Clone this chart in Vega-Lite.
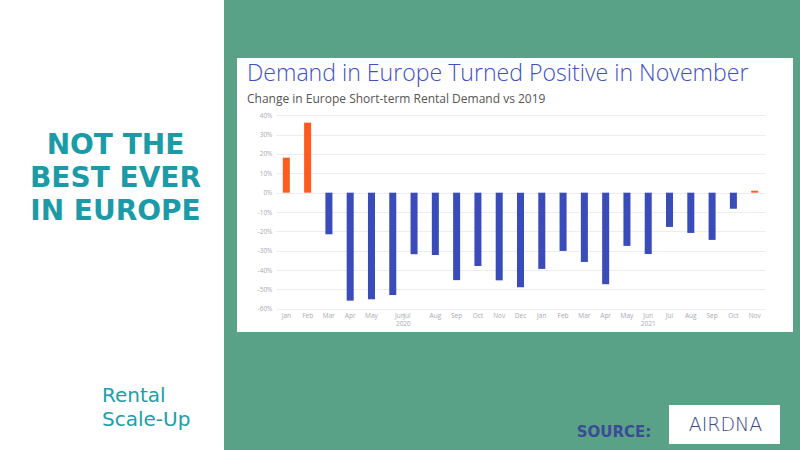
{
  "$schema": "https://vega.github.io/schema/vega-lite/v6.json",
  "background": "#5aa287",
  "padding": {"left": 0, "top": 0, "right": 7, "bottom": 0},
  "spacing": 13,
  "config": {"view": {"stroke": null}, "font": "Open Sans"},
  "datasets": {
    "months": [
      {"month": "2020-01", "change": 0.181},
      {"month": "2020-02", "change": 0.362},
      {"month": "2020-03", "change": -0.215},
      {"month": "2020-04", "change": -0.558},
      {"month": "2020-05", "change": -0.551},
      {"month": "2020-06", "change": -0.529},
      {"month": "2020-07", "change": -0.318},
      {"month": "2020-08", "change": -0.322},
      {"month": "2020-09", "change": -0.452},
      {"month": "2020-10", "change": -0.379},
      {"month": "2020-11", "change": -0.453},
      {"month": "2020-12", "change": -0.489},
      {"month": "2021-01", "change": -0.394},
      {"month": "2021-02", "change": -0.301},
      {"month": "2021-03", "change": -0.358},
      {"month": "2021-04", "change": -0.473},
      {"month": "2021-05", "change": -0.275},
      {"month": "2021-06", "change": -0.317},
      {"month": "2021-07", "change": -0.177},
      {"month": "2021-08", "change": -0.208},
      {"month": "2021-09", "change": -0.244},
      {"month": "2021-10", "change": -0.083},
      {"month": "2021-11", "change": 0.01}
    ]
  },
  "hconcat": [
    {
      "width": 224,
      "height": 450,
      "view": {"fill": "#ffffff"},
      "layer": [
        {
          "data": {"values": [{"line": 1, "text": "NOT THE"}, {"line": 2, "text": "BEST EVER"}, {"line": 3, "text": "IN EUROPE"}]},
          "mark": {"type": "text", "font": "DejaVu Sans", "fontWeight": "bold", "fontSize": 28, "color": "#1a9ba7", "baseline": "middle", "align": "center", "dx": 3.5},
          "encoding": {
            "y": {"field": "line", "type": "ordinal", "axis": null, "scale": {"type": "point", "range": [146, 212], "padding": 0}},
            "text": {"field": "text"}
          }
        },
        {
          "data": {"values": [{"line": 1, "text": "Rental"}, {"line": 2, "text": "Scale-Up"}]},
          "mark": {"type": "text", "font": "DejaVu Sans", "fontSize": 20, "color": "#1aa0aa", "baseline": "middle", "align": "left", "dx": -10},
          "encoding": {
            "y": {"field": "line", "type": "ordinal", "axis": null, "scale": {"type": "point", "range": [396, 420], "padding": 0}},
            "text": {"field": "text"}
          }
        }
      ],
      "resolve": {"scale": {"y": "independent"}}
    },
    {
      "spacing": 0,
      "vconcat": [
        {
          "width": 10,
          "height": 58,
          "data": {"values": [{}]},
          "mark": "text",
          "encoding": {"text": {"value": ""}}
        },
        {
          "width": 556,
          "height": 274,
          "view": {"fill": "#ffffff"},
          "data": {"name": "months"},
          "title": {
            "text": "Demand in Europe Turned Positive in November",
            "subtitle": "Change in Europe Short-term Rental Demand vs 2019",
            "anchor": "start",
            "frame": "group",
            "dx": 10,
            "offset": -47,
            "font": "Open Sans",
            "fontSize": 23.1,
            "fontWeight": 300,
            "color": "#3d4fc3",
            "subtitleFont": "Open Sans",
            "subtitleFontSize": 12,
            "subtitleColor": "#555555",
            "subtitlePadding": 8
          },
          "layer": [
            {
              "mark": {"type": "bar"},
              "encoding": {
                "x": {
                  "field": "month",
                  "type": "ordinal",
                  "scale": {"range": [39, 528], "paddingInner": 0.67, "paddingOuter": 0.32},
                  "axis": {
                    "orient": "bottom",
                    "offset": -23.2,
                    "title": null,
                    "labelExpr": "['Jan','Feb','Mar','Apr','May','Jun','Jul','Aug','Sep','Oct','Nov','Dec'][toNumber(slice(datum.value,5,7))-1]",
                    "labelAngle": 0,
                    "labelFont": "Open Sans",
                    "labelFontSize": 6.5,
                    "labelColor": "#a9a9b3",
                    "labelPadding": 4,
                    "labelOverlap": false,
                    "ticks": false,
                    "domain": false,
                    "grid": false,
                    "labelOffset": {"condition": [{"test": "datum.value == '2020-06'", "value": 7}, {"test": "datum.value == '2020-07'", "value": -7}], "value": 0}
                  }
                },
                "y": {
                  "field": "change",
                  "type": "quantitative",
                  "scale": {"domain": [-0.72, 0.696], "nice": false, "zero": true},
                  "axis": {
                    "orient": "left",
                    "offset": -40,
                    "title": null,
                    "values": [-0.6, -0.5, -0.4, -0.3, -0.2, -0.1, 0, 0.1, 0.2, 0.3, 0.4],
                    "labelExpr": "replace(format(datum.value, '.0%'), '−', '-')",
                    "labelFont": "Open Sans",
                    "labelFontSize": 6.5,
                    "labelColor": "#a9a9b3",
                    "labelPadding": 5,
                    "ticks": false,
                    "domain": false,
                    "grid": true,
                    "gridColor": "#ececf2",
                    "gridWidth": 1
                  }
                },
                "color": {"condition": {"test": "datum.change > 0", "value": "#ff5a1f"}, "value": "#3a4cb9"}
              }
            },
            {
              "mark": {"type": "text", "opacity": 0},
              "encoding": {
                "x": {
                  "field": "month",
                  "type": "ordinal",
                  "axis": {
                    "orient": "bottom",
                    "offset": -23.2,
                    "title": null,
                    "values": ["2020-06", "2021-06"],
                    "labelExpr": "slice(datum.value, 0, 4)",
                    "labelAngle": 0,
                    "labelFont": "Open Sans",
                    "labelFontSize": 6.5,
                    "labelColor": "#a9a9b3",
                    "labelPadding": 12,
                    "ticks": false,
                    "domain": false,
                    "grid": false,
                    "labelOffset": {"condition": {"test": "datum.value == '2020-06'", "value": 10.6}, "value": 0}
                  }
                },
                "text": {"value": "."}
              }
            }
          ],
          "resolve": {"axis": {"x": "independent"}}
        },
        {
          "spacing": 0,
          "vconcat": [
            {
              "width": 10,
              "height": 73,
              "data": {"values": [{}]},
              "mark": "text",
              "encoding": {"text": {"value": ""}}
            },
            {
              "spacing": 14,
              "hconcat": [
                {
                  "width": 324,
                  "height": 39,
                  "data": {"values": [{}]},
                  "mark": "text",
                  "encoding": {"text": {"value": ""}}
                },
                {
                  "width": 80,
                  "height": 39,
                  "data": {"values": [{"label": "SOURCE:"}]},
                  "mark": {"type": "text", "font": "DejaVu Sans", "fontWeight": "bold", "fontSize": 15, "color": "#3c4b96", "baseline": "middle", "dy": 7, "dx": -1},
                  "encoding": {"text": {"field": "label"}}
                },
                {
                  "width": 111,
                  "height": 39,
                  "view": {"fill": "#ffffff"},
                  "data": {"values": [{"label": "AIRDNA"}]},
                  "mark": {"type": "text", "font": "DejaVu Sans", "fontWeight": 200, "fontSize": 19, "color": "#3b4a8c", "baseline": "middle", "dx": 1},
                  "encoding": {"text": {"field": "label"}}
                }
              ]
            }
          ]
        }
      ]
    }
  ]
}
